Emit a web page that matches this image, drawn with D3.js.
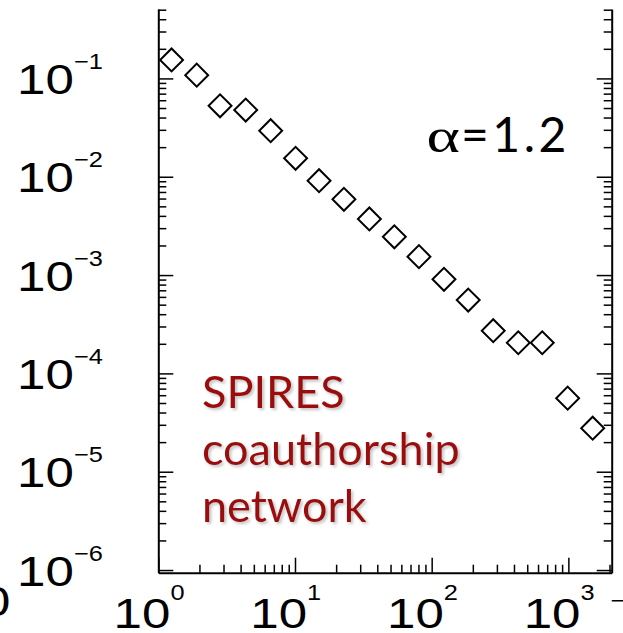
<!DOCTYPE html>
<html>
<head>
<meta charset="utf-8">
<script src="https://cdn.jsdelivr.net/npm/d3@7"></script>
<style>
  html, body { margin: 0; padding: 0; background: #fff; }
  svg { display: block; }
</style>
</head>
<body>
<svg id="chart" width="623" height="633"></svg>
<script>
// Degree distribution, log-binned (k, P(k))
const degree = [1.25, 1.91, 2.83, 4.36, 6.64, 10.1, 15.0, 22.8, 35.0, 53.3, 80.7, 123, 185, 282, 430, 644, 988, 1506];
const prob = [0.154, 0.108, 0.0527, 0.0477, 0.0294, 0.0154, 0.00912, 0.00590, 0.00372, 0.00245, 0.00154, 0.000905, 0.000557, 0.000272, 0.000205, 0.000205, 5.60e-5, 2.77e-5];

// Decade tick labels
const xDecades = [0, 1, 2, 3];
const yDecades = [-1, -2, -3, -4, -5, -6];

const alphaSymbol = "α";
const alphaValue = "=1.2";
const networkLines = ["SPIRES", "coauthorship", "network"];

const svg = d3.select("#chart");

const plotLeft = 158.3, plotRight = 611.7, plotTop = 9, plotBottom = 572.7;

const x = d3.scaleLog().domain([1, Math.pow(10, 3.317)]).range([plotLeft, plotRight]);
const y = d3.scaleLog().domain([Math.pow(10, -0.294), Math.pow(10, -6.027)]).range([plotTop, plotBottom]);

// all 1..9 x 10^n ticks inside each domain
function logTicks(scale) {
  const [a, b] = d3.extent(scale.domain());
  const out = [];
  for (let e = Math.floor(Math.log10(a)); e <= Math.ceil(Math.log10(b)); e++) {
    for (let m = 1; m <= 9; m++) {
      const v = m * Math.pow(10, e);
      if (v >= a * 0.999 && v <= b * 1.001) out.push(v);
    }
  }
  return out;
}
const isMajor = v => Math.abs(Math.log10(v) - Math.round(Math.log10(v))) < 1e-9;

const MINOR = 8, MAJOR = 15;

function styleAxis(g, sign, attr) {
  g.select(".domain").attr("stroke", "#000").attr("stroke-width", 2);
  g.selectAll(".tick line")
    .attr("stroke", "#000")
    .attr("stroke-width", 1.5)
    .attr(attr, d => sign * (isMajor(d) ? MAJOR : MINOR));
  g.selectAll(".tick text").remove();
}

svg.append("g")
  .attr("transform", `translate(${plotLeft},0)`)
  .call(d3.axisLeft(y).tickValues(logTicks(y)).tickSizeOuter(0).tickFormat(""))
  .call(g => styleAxis(g, 1, "x2"));

svg.append("g")
  .attr("transform", `translate(${plotRight},0)`)
  .call(d3.axisRight(y).tickValues(logTicks(y)).tickSizeOuter(0).tickFormat(""))
  .call(g => styleAxis(g, -1, "x2"));

svg.append("g")
  .attr("transform", `translate(0,${plotBottom})`)
  .call(d3.axisBottom(x).tickValues(logTicks(x)).tickSizeOuter(0).tickFormat(""))
  .call(g => styleAxis(g, -1, "y2"));

// power-of-ten labels, slightly wide Helvetica-like digits
const labelFont = "'Liberation Sans', Arial, Helvetica, sans-serif";
const SX = 1.18;

function powerLabel(px, py, exp, supDy) {
  const t = svg.append("text")
    .attr("transform", `translate(${px},${py}) scale(${SX},1)`)
    .attr("font-family", labelFont)
    .attr("font-size", 43.3)
    .attr("fill", "#000");
  t.append("tspan").text("10");
  if (exp !== null) {
    t.append("tspan")
      .attr("font-size", 21.5)
      .attr("dy", supDy)
      .text(String(exp).replace("-", "\u2212"));
  }
  return t;
}

yDecades.forEach(e => powerLabel(17.1, y(Math.pow(10, e)) + 15.5, e, -25));
xDecades.forEach(e => powerLabel(x(Math.pow(10, e)) - 44.7, 627.5, e, -28));

// edge fragments of neighbouring labels
powerLabel(-46.4, 615.5, null, 0);
svg.append("text")
  .attr("transform", `translate(610.5,608) scale(${SX},1)`)
  .attr("font-family", labelFont)
  .attr("font-size", 21.5)
  .text("\u2212");

// data markers: open diamonds
const diamond = d3.symbol().type(d3.symbolSquare).size(262);
svg.append("g")
  .selectAll("path")
  .data(degree.map((k, i) => [k, prob[i]]))
  .join("path")
  .attr("d", diamond)
  .attr("transform", d => `translate(${x(d[0])},${y(d[1])}) rotate(45)`)
  .attr("fill", "none")
  .attr("stroke", "#000")
  .attr("stroke-width", 2);

// exponent annotation: wide serif alpha, then the value
svg.append("text")
  .attr("transform", "translate(426.5,151.5) scale(1.33,1)")
  .attr("font-family", "'Liberation Serif', 'Times New Roman', serif")
  .attr("font-size", 48)
  .attr("fill", "#000")
  .text(alphaSymbol);
svg.append("text")
  .attr("x", 461)
  .attr("y", 151.5)
  .attr("font-family", "Lato, 'Open Sans', sans-serif")
  .attr("font-size", 48)
  .attr("letter-spacing", 3.5)
  .attr("fill", "#000")
  .text(alphaValue);

// network name with a soft shadow
const defs = svg.append("defs");
const f = defs.append("filter").attr("id", "shadow").attr("x", "-10%").attr("y", "-30%").attr("width", "130%").attr("height", "160%");
f.append("feDropShadow")
  .attr("dx", 2).attr("dy", 2)
  .attr("stdDeviation", 1.6)
  .attr("flood-color", "#777")
  .attr("flood-opacity", 0.45);

svg.append("g")
  .attr("filter", "url(#shadow)")
  .selectAll("text")
  .data(networkLines)
  .join("text")
  .attr("x", 202)
  .attr("y", (d, i) => 408 + i * 57)
  .attr("font-family", "Lato, 'Open Sans', sans-serif")
  .attr("font-size", 45)
  .attr("fill", "#9b0c0c")
  .text(d => d);
</script>
</body>
</html>
